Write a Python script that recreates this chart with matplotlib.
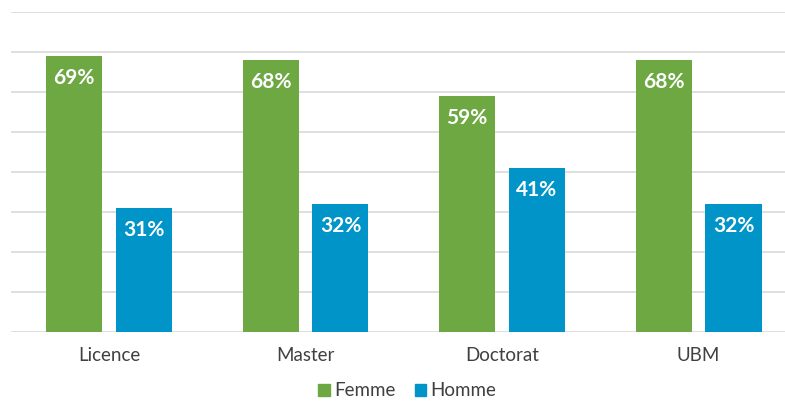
import numpy as np
import matplotlib.pyplot as plt
from matplotlib.patches import Patch

categories = ["Licence", "Master", "Doctorat", "UBM"]
femme = [69, 68, 59, 68]
homme = [31, 32, 41, 32]
series_names = ["Femme", "Homme"]

green = "#6DA843"
blue = "#0094C9"

plt.rcParams["font.family"] = ["Lato", "DejaVu Sans"]

fig = plt.figure(figsize=(7.85, 4.01), dpi=100)
ax = fig.add_axes([0.0137, 0.172, 1.0013, 0.798])

x = np.arange(len(categories))
w = 0.285
off = 0.178
b1 = ax.bar(x - off, femme, w, color=green)
b2 = ax.bar(x + off, homme, w, color=blue)

for bars, vals in ((b1, femme), (b2, homme)):
    for r, v in zip(bars, vals):
        ax.annotate(f"{v}%", (r.get_x() + r.get_width() / 2, v),
                    xytext=(0, -15.5), textcoords="offset points",
                    ha="center", va="center", color="white",
                    fontsize=15, fontweight="bold")

ax.set_xlim(-0.5, 3.5)
ax.set_ylim(0, 80)
ax.set_yticks(np.arange(0, 81, 10))
ax.yaxis.grid(True, color="#d9d9d9", linewidth=1.2)
ax.set_axisbelow(True)
ax.tick_params(axis="y", left=False, labelleft=False)
ax.tick_params(axis="x", length=0, labelsize=13.5, labelcolor="#404040", pad=11)
ax.set_xticks(x)
ax.set_xticklabels(categories)
for s in ax.spines.values():
    s.set_visible(False)

handles = [Patch(color=green), Patch(color=blue)]
fig.legend(handles, series_names, loc="center", bbox_to_anchor=(0.519, 0.025),
           ncol=2, frameon=False, fontsize=13.5, handlelength=0.6,
           handleheight=0.6, handletextpad=0.25, columnspacing=1.0,
           labelcolor="#404040", borderpad=0.1)

fig.savefig("out.png", dpi=100)
